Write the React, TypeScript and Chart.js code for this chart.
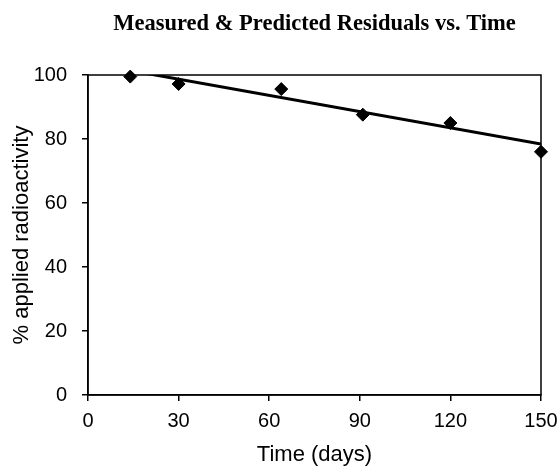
import React, { useEffect, useRef } from "react";
import { Chart, registerables } from "chart.js";

Chart.register(...registerables);

const measuredDays = [14, 30, 64, 91, 120, 150];
const measuredValues = [99.5, 97.2, 95.6, 87.6, 85.0, 76.0];
const predictedDays = [14, 150];
const predictedValues = [101.4, 78.4];
const xTicks = [0, 30, 60, 90, 120, 150];
const yTicks = [0, 20, 40, 60, 80, 100];

const chartTitle = "Measured & Predicted Residuals vs. Time";
const xTitle = "Time (days)";
const yTitle = "% applied radioactivity";

const frame = {
  id: "frame",
  afterDatasetsDraw(chart: any) {
    const { ctx, chartArea } = chart;
    ctx.save();
    ctx.strokeStyle = "#000";
    ctx.lineWidth = 1.5;
    ctx.strokeRect(chartArea.left, chartArea.top, chartArea.right - chartArea.left, chartArea.bottom - chartArea.top);
    ctx.restore();
  },
  afterDraw(chart: any) {
    const { ctx, chartArea } = chart;
    ctx.save();
    ctx.fillStyle = "#000";
    ctx.font = "bold 22.5px 'Liberation Serif', 'Times New Roman', serif";
    ctx.textAlign = "center";
    ctx.textBaseline = "alphabetic";
    ctx.fillText(chartTitle, (chartArea.left + chartArea.right) / 2, 30);
    ctx.restore();
  },
};

export default function App() {
  const ref = useRef<HTMLCanvasElement>(null);
  useEffect(() => {
    document.body.style.margin = "0";
    const tickFont = { family: "'Liberation Sans', Arial, sans-serif", size: 20 };
    const titleFont = { family: "'Liberation Sans', Arial, sans-serif", size: 22, lineHeight: 1 };
    const chart = new Chart(ref.current!, {
      type: "scatter",
      data: {
        datasets: [
          {
            label: "Predicted",
            data: predictedDays.map((d, i) => ({ x: d, y: predictedValues[i] })),
            showLine: true,
            borderColor: "#000",
            borderWidth: 3,
            pointRadius: 0,
            fill: false,
          },
          {
            label: "Measured",
            data: measuredDays.map((d, i) => ({ x: d, y: measuredValues[i] })),
            pointStyle: "rectRot",
            pointRadius: 6.5,
            backgroundColor: "#000",
            borderColor: "#000",
            borderWidth: 1,
            showLine: false,
            clip: false,
          },
        ],
      },
      options: {
        animation: false,
        responsive: false,
        layout: { padding: { left: 0, right: 19, top: 75, bottom: 0 } },
        plugins: {
          legend: { display: false },
          tooltip: { enabled: false },
          title: { display: false },
        },
        scales: {
          x: {
            type: "linear",
            min: 0,
            max: 150,
            afterFit: (s: any) => { s.height = 71; s.paddingLeft = 0; s.paddingRight = 0; },
            afterBuildTicks: (s: any) => { s.ticks = xTicks.map((v) => ({ value: v })); },
            border: { display: true, color: "#000", width: 1.5 },
            grid: { display: true, drawOnChartArea: false, drawTicks: true, tickLength: 6, color: "#000", lineWidth: 1.5 },
            ticks: { color: "#000", font: tickFont, padding: 8, maxRotation: 0 },
            title: { display: true, text: xTitle, color: "#000", font: titleFont, padding: { top: 0, bottom: 0 } },
          },
          y: {
            type: "linear",
            min: 0,
            max: 100,
            afterFit: (s: any) => { s.width = 88; s.paddingTop = 0; s.paddingBottom = 0; },
            afterBuildTicks: (s: any) => { s.ticks = yTicks.map((v) => ({ value: v })); },
            border: { display: true, color: "#000", width: 1.5 },
            grid: { display: true, drawOnChartArea: false, drawTicks: true, tickLength: 6, color: "#000", lineWidth: 1.5 },
            ticks: { color: "#000", font: tickFont, padding: 15 },
            title: { display: true, text: yTitle, color: "#000", font: titleFont, padding: { top: 11, bottom: 0 } },
          },
        },
      },
      plugins: [frame],
    });
    return () => chart.destroy();
  }, []);
  return <canvas ref={ref} width={560} height={466} style={{ display: "block" }} />;
}
